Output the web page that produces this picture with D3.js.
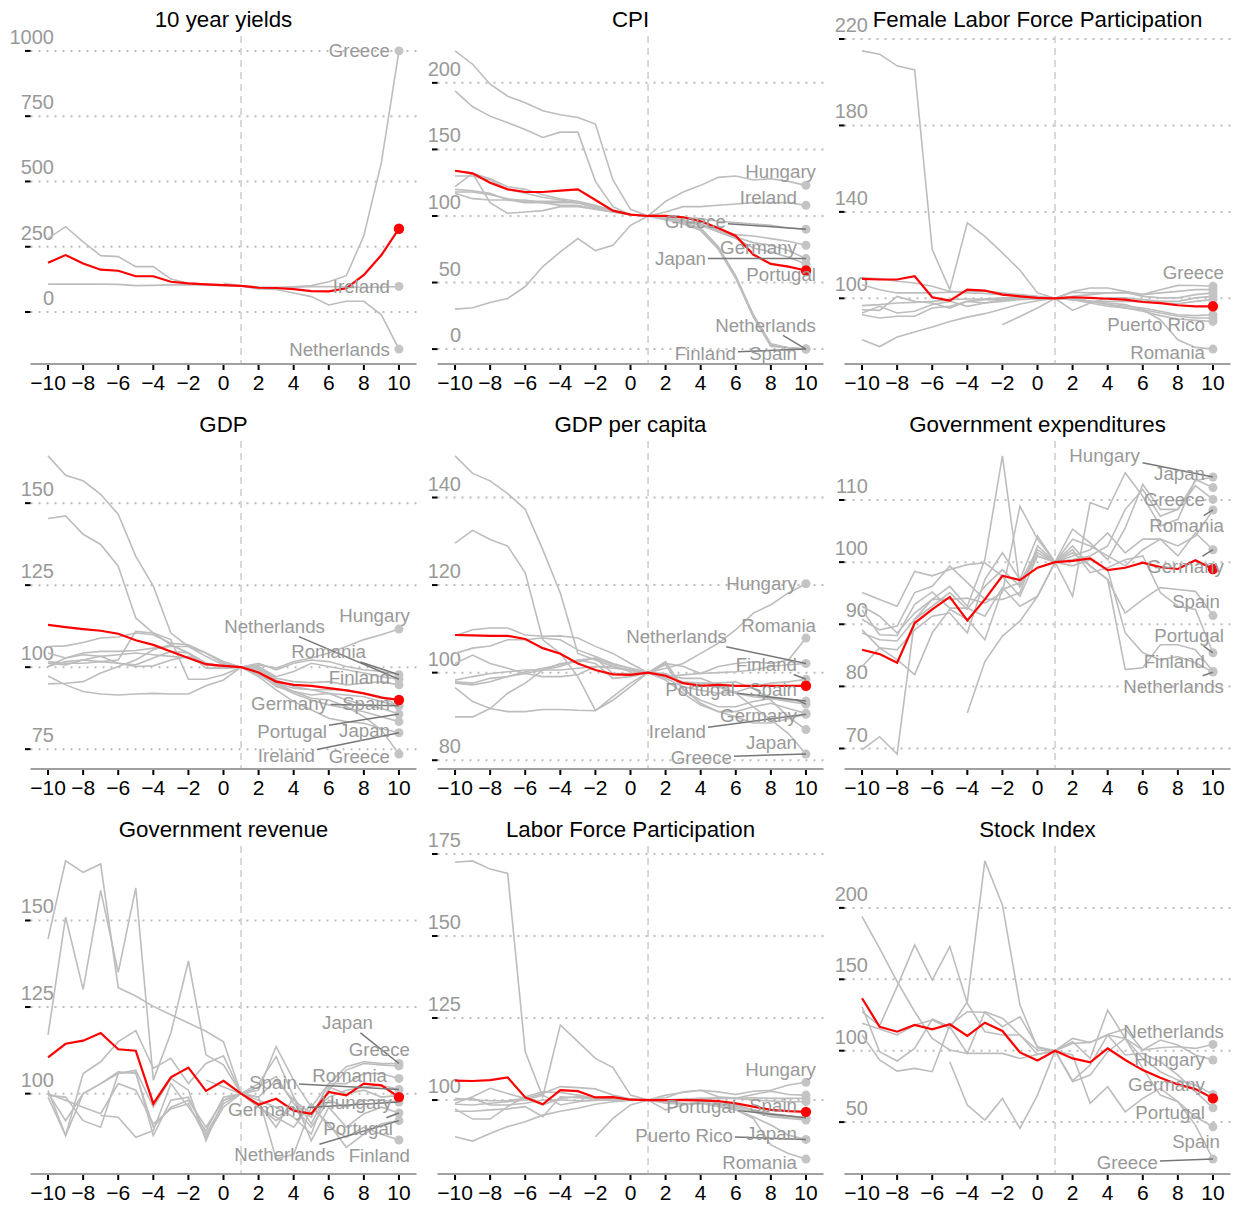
<!DOCTYPE html>
<html>
<head>
<meta charset="utf-8">
<script src="https://cdn.jsdelivr.net/npm/d3@7"></script>
<style>
  body { margin: 0; background: #fff; }
  text { font-family: "Liberation Sans", Arial, Helvetica, sans-serif; }
</style>
</head>
<body>
<svg id="chart" width="1241" height="1207"></svg>
<script>
// years relative to the event
const years = [-10, -9, -8, -7, -6, -5, -4, -3, -2, -1, 0, 1, 2, 3, 4, 5, 6, 7, 8, 9, 10];
const xTicks = [-10, -8, -6, -4, -2, 0, 2, 4, 6, 8, 10];
const _ = null;

// ---- 10 year yields
const yields = {
  Greece:      [282, 327, 269, 216, 212, 174, 174, 126, 110, 107, 103, 100, 95, 93, 97, 101, 116, 139, 292, 573, 1000],
  Ireland:     [107, 107, 107, 107, 106, 101, 102, 104, 105, 103, 101, 100, 96, 95, 95, 97, 98, 96, 95, 95, 98],
  Netherlands: [_, _, _, _, _, _, _, _, _, _, 110, 100, 88, 86, 73, 59, 27, 41, 41, -11, -142]
};
const yieldsMean = [189, 218, 186, 162, 158, 137, 137, 116, 110, 106, 103, 100, 93, 92, 88, 80, 79, 91, 142, 218, 319];
const yieldsTicks = [0, 250, 500, 750, 1000];
const yieldsLabels = [["Greece", -9, 0], ["Ireland", -9, 0], ["Netherlands", -9, 0]];

// ---- CPI
const cpi = {
  Greece:      [224, 214, 199, 190, 185, 179, 176, 174, 169, 127, 105, 100, 99, 99, 98, 96, 95, 94, 93, 91, 90],
  Portugal:    [194, 182, 175, 170, 165, 159, 163, 163, 126, 107, 101, 100, 99, 96, 93, 88, 83, 76, 73, 69, 64],
  Hungary:     [30, 31, 35, 38, 47, 62, 73, 83, 74, 78, 93, 100, 111, 118, 123, 129, 130, 127, 128, 126, 123],
  Netherlands: [134, 132, 128, 122, 120, 116, 113, 111, 108, 104, 101, 100, 98, 95, 90, 76, 54, 25, 3, 1, 0],
  Japan:       [122, 132, 110, 102, 103, 104, 107, 107, 105, 103, 101, 100, 98, 96, 93, 89, 84, 80, 78, 74, 68],
  Ireland:     [120, 119, 117, 112, 110, 110, 110, 110, 107, 104, 101, 100, 103, 107, 107, 108, 109, 110, 110, 110, 108],
  Germany:     [117, 113, 112, 112, 112, 110, 108, 108, 105, 103, 101, 100, 99, 97, 94, 90, 86, 85, 83, 81, 78],
  Finland:     [130, 130, 127, 120, 117, 114, 112, 110, 107, 104, 101, 100, 98, 94, 89, 75, 53, 24, 2, 1, 0],
  Spain:       [118, 118, 116, 113, 111, 111, 111, 110, 106, 103, 101, 100, 97, 95, 91, 77, 55, 26, 4, 1, 0]
};
const cpiMean = [134, 132, 125, 120, 118, 118, 119, 120, 112, 104, 101, 100, 100, 99, 96, 91, 85, 71, 64, 62, 59];
const cpiTicks = [0, 50, 100, 150, 200];
const cpiLabels = [["Hungary", 10, -14], ["Ireland", -9, -8], ["Greece", -80, -8], ["Germany", -9, 2],
  ["Japan", -100, 0], ["Portugal", 10, 11], ["Netherlands", 10, -24], ["Finland", -70, 4], ["Spain", -9, 4]];

// ---- Female Labor Force Participation
const femaleLfp = {
  Greece:        [106.3, 104, 102.5, 102.5, 102.5, 102.8, 103.2, 103.2, 102.5, 101.7, 100.9, 100, 102.8, 102.5, 102.5, 102.5, 101.7, 104, 106, 105.9, 105.6],
  Hungary:       [109.4, 109.1, 107.9, 107.1, 105.6, 103.2, 102.5, 102.2, 101.7, 101.2, 100.5, 100, 103.2, 104.8, 104.8, 103.2, 101.7, 102.5, 103.2, 104, 104],
  Ireland:       [214.5, 213, 207.6, 205.7, 122.6, 104, 134.9, 128.7, 121, 113, 102.5, 100, 100.9, 101.7, 102.5, 102.8, 100.9, 100.2, 100.2, 101.7, 102.5],
  Finland:       [96.6, 97.1, 97.8, 98.1, 98.6, 99.4, 99.7, 99.7, 100.2, 100.2, 100, 100, 94.4, 97.8, 100.2, 100.2, 99.4, 98.6, 98.6, 100.2, 100.9],
  Germany:       [94.7, 94.4, 100.9, 98.6, 97.8, 95.5, 98.6, 99.4, 99.4, 99.8, 99.8, 100, 99.4, 98.6, 98.6, 98.6, 98.6, 97.8, 97.5, 98.6, 99.4],
  Portugal:      [93.2, 96.3, 93.2, 94, 97.1, 98.6, 96.3, 97.8, 98.6, 99.4, 99.7, 100, 100.2, 98.6, 97.1, 96.3, 95.5, 94, 92.4, 92, 92.4],
  Spain:         [92.4, 90.9, 91.7, 91.7, 95.5, 96.3, 98.6, 97.8, 99.4, 99.7, 99.8, 100, 99.4, 97.8, 96.3, 95.5, 94.7, 93.2, 91.7, 90.9, 90.9],
  "Puerto Rico": [_, _, _, _, _, _, _, _, 87.8, 91.6, 95.5, 100, 100.2, 98.6, 97.1, 95.5, 94, 92, 90.4, 89.8, 89.3],
  Romania:       [80.8, 77.7, 82.1, 84.4, 86.7, 89.3, 91.3, 92.9, 95.1, 97.4, 98.9, 100, 99.4, 98.6, 97.8, 97.1, 94.7, 90.1, 80.8, 77.3, 76.5]
};
const femaleLfpMean = [109, 108.7, 108.7, 110.2, 100.5, 98.9, 104, 103.6, 101.7, 100.9, 100.2, 100, 100.5, 100.2, 99.8, 99.4, 98.3, 97.8, 96.8, 96.3, 96.3];
const femaleLfpTicks = [100, 140, 180, 220];
const femaleLfpLabels = [["Greece", 11, -14], ["Puerto Rico", -8, 3], ["Romania", -8, 3]];

// ---- GDP
const gdp = {
  Hungary:     [106.3, 106.5, 107.5, 108.9, 109.2, 110.4, 109.9, 107.3, 106.8, 104.3, 101.2, 100, 100.7, 99.7, 101.7, 102.8, 104.3, 106.3, 108.4, 109.9, 111.6],
  Netherlands: [104.3, 102.8, 104.3, 104.8, 104.8, 105.1, 105.8, 106.3, 106.3, 103.3, 100.7, 100, 100.2, 97.1, 98.7, 101.2, 100.2, 99.2, 98.2, 97.1, 96.3],
  Romania:     [164.4, 158.5, 156.8, 152.7, 146.6, 133.8, 124.7, 110.4, 106.3, 104.3, 101.7, 100, 101.2, 99.2, 101.2, 102.2, 101.7, 100.2, 99.2, 98.7, 97.7],
  Finland:     [101.7, 101.2, 101.2, 101.7, 101.2, 100.7, 102.8, 104.8, 104.3, 101.2, 99.7, 100, 99.7, 96.6, 95.6, 95.3, 95.6, 94.6, 95.1, 95.6, 94.6],
  Spain:       [94.9, 95.1, 95.6, 98.2, 100.2, 102.2, 105.3, 106.8, 104.3, 101.2, 100.2, 100, 99.2, 96.1, 94.1, 93.1, 92, 91.5, 91, 89.5, 88.2],
  Germany:     [100.2, 102.8, 103.8, 103.3, 101.2, 100.2, 100.4, 102.2, 103.3, 101.2, 100.2, 100, 98.7, 95.1, 93.6, 93.1, 93.1, 93.1, 92, 91, 88.2],
  Portugal:    [101.2, 100.7, 102.2, 103.3, 103.8, 104.3, 103.8, 103.3, 102.8, 100.7, 100.2, 100, 98.2, 94.1, 92.6, 91.5, 92, 90, 88.5, 87.5, 85.7],
  Japan:       [100.2, 101.7, 102.2, 101.7, 102.2, 110.9, 110.4, 106.8, 104.3, 99.7, 99.7, 100, 97.7, 94.6, 92, 90, 88.5, 87.5, 86.4, 84.9, 83.4],
  Ireland:     [145.3, 146.1, 140.5, 137.4, 130.8, 115, 110.4, 108.4, 96.3, 96.3, 97.7, 100, 97.1, 93.1, 89.5, 87, 84.4, 83.4, 82.9, 81.3, 80],
  Greece:      [97.3, 94.6, 92.6, 91.8, 91.5, 91.8, 92, 91.8, 91.8, 94.3, 96.1, 100, 98.2, 95.1, 92.6, 90.5, 90, 88, 84.9, 80.8, 73.5]
};
const gdpMean = [112.9, 112.2, 111.6, 111.1, 110.2, 108.2, 106.8, 104.8, 102.8, 100.9, 100.4, 100, 98.4, 95.6, 94.6, 94.3, 93.6, 92.9, 92, 90.7, 90];
const gdpTicks = [75, 100, 125, 150];
const gdpLabels = [["Hungary", 11, -14], ["Netherlands", -74, -53], ["Romania", -33, -23], ["Finland", -9, -7],
  ["Germany", -71, -2], ["Spain", -9, -2], ["Portugal", -72, 17], ["Japan", -9, 9], ["Ireland", -84, 23], ["Greece", -9, 2]];

// ---- GDP per capita
const gdpPc = {
  Hungary:     [89.9, 89.9, 91.8, 95.3, 97.6, 100.6, 102.1, 102.5, 103.3, 99.8, 99.8, 100, 101, 102.1, 104.4, 106.7, 109.8, 113.6, 115.5, 118.2, 120.3],
  Romania:     [96.6, 93.4, 91.8, 91.1, 91.1, 91.6, 91.6, 91.4, 91.3, 94.5, 97.6, 100, 102.1, 101.4, 99.8, 101.4, 102.1, 102.5, 102.1, 102.9, 107.9],
  Netherlands: [108.4, 109.8, 110.2, 110.2, 108.6, 108.3, 108.4, 107.9, 106, 104.4, 102.1, 100, 99.1, 99.5, 99.8, 100, 100.2, 100.6, 101.4, 101.8, 102.1],
  Finland:     [104.4, 105.6, 106.1, 107.5, 107.5, 107.9, 107.5, 105.2, 103.7, 102.1, 101, 100, 98.7, 96.8, 96, 95.3, 95.6, 96.8, 97.6, 97.9, 98.5],
  Portugal:    [102.1, 104, 102.1, 101, 99.8, 99.1, 99.1, 99.5, 101.4, 101.4, 100.6, 100, 99.8, 97.6, 97.2, 96.8, 95.3, 94.5, 94.1, 93.7, 93.5],
  Spain:       [97.9, 97.6, 98.7, 99.1, 99.8, 100.6, 101.4, 102.9, 103.3, 101.8, 101, 100, 101.8, 96, 93.7, 92.2, 92.2, 93.4, 94.1, 93.4, 92.8],
  Germany:     [98.3, 99.1, 99.8, 100.2, 100.6, 100.6, 100.6, 101, 101.4, 101, 100.6, 100, 98.3, 95.3, 92.6, 91.1, 91.1, 92.2, 93, 91.8, 90.7],
  Ireland:     [149.5, 145.5, 143.8, 140.9, 137.3, 128.1, 118.2, 104.4, 102.9, 101.4, 100.2, 100, 102.5, 96.4, 93, 91.1, 89.9, 88.5, 88.5, 89.5, 90.5],
  Japan:       [97.6, 97.2, 97.9, 99.1, 100.2, 101, 101.8, 102.9, 102.1, 98.7, 99.1, 100, 99.1, 97.9, 97.6, 97.6, 97.9, 96.4, 93.7, 89.9, 87],
  Greece:      [129.6, 132.5, 130.4, 128.9, 122.8, 107.5, 104.4, 99.1, 91.4, 93.7, 96.8, 100, 99.5, 98.7, 98.7, 97.2, 95.3, 92.2, 89.2, 86.1, 81.4]
};
const gdpPcMean = [108.6, 108.5, 108.4, 108.4, 107.7, 105.6, 104.3, 102.1, 100.6, 99.6, 99.5, 100, 99.3, 97.6, 97, 97.2, 97, 97, 97, 97, 97];
const gdpPcTicks = [80, 100, 120, 140];
const gdpPcLabels = [["Hungary", -9, 0], ["Romania", 10, -13], ["Netherlands", -79, -27], ["Finland", -9, -15],
  ["Portugal", -71, -12], ["Spain", -9, -15], ["Germany", -9, 2], ["Ireland", -100, 17], ["Japan", -9, 13], ["Greece", -74, 3]];

// ---- Government expenditures
const govExp = {
  Hungary:     [92.9, 91.3, 88.6, 91.8, 94, 94, 94.2, 93.4, 95.1, 109, 103.7, 100, 100.4, 101, 102.6, 108.5, 111.7, 107.4, 108.5, 113.1, 113.7],
  Japan:       [95.1, 94, 92.9, 98.5, 97.8, 98.8, 99.6, 99.9, 97.7, 94.5, 101, 100, 94.5, 109.6, 108.5, 114.4, 110.6, 105.8, 106.9, 113.3, 112],
  Greece:      [88.6, 87.5, 87.3, 90.8, 94, 96.1, 92.9, 100.4, 117.1, 96.1, 101.5, 100, 105.3, 103.1, 100.4, 105.5, 112.5, 108.5, 108.5, 112.3, 110.1],
  Romania:     [_, _, _, _, _, _, 75.7, 84, 88.1, 90.5, 94.5, 100, 101, 102, 104.7, 101.5, 103.7, 103.7, 102.6, 104.2, 108.4],
  Germany:     [90.8, 89.1, 89.7, 95.1, 96.1, 99.4, 96.7, 94, 94, 95.1, 102.6, 100, 103.7, 102.6, 101, 99.4, 102, 103.7, 101, 104.7, 102],
  Spain:       [83.2, 86.2, 85.9, 89.1, 91.3, 91.8, 88.6, 97.2, 101.5, 97.2, 104.2, 100, 102.6, 99.4, 97.2, 91.8, 94, 95.9, 95.6, 95.3, 91.4],
  Portugal:    [92.3, 88.3, 88.2, 93.2, 95.2, 92.6, 92.6, 91.3, 95.9, 92.9, 94.5, 100, 102, 98.3, 99.1, 100.4, 101, 95.1, 92.9, 92.4, 85.4],
  Finland:     [69.8, 71.9, 69.1, 90.8, 92.9, 95.1, 92.4, 96.1, 98.8, 96.1, 101, 100, 101.5, 99.4, 97.2, 82.7, 83, 86.7, 86.7, 85.9, 82.4],
  Netherlands: [89.1, 86.2, 84.3, 81.9, 88.6, 92.4, 90.8, 87.5, 95.6, 96.7, 102, 100, 99.4, 100.4, 98.8, 88.6, 85.4, 84.3, 84.8, 83.8, 82.3]
};
const govExpMean = [85.9, 85.2, 83.8, 90.2, 92.4, 94.4, 90.6, 94, 97.8, 97.1, 99.1, 100, 100.2, 100.6, 98.7, 99.1, 99.9, 99.2, 98.9, 100.3, 98.9];
const govExpTicks = [70, 80, 90, 100, 110];
const govExpLabels = [["Hungary", -73, -22], ["Japan", -8, -14], ["Greece", -8, 0], ["Romania", 11, 16],
  ["Germany", 11, 17], ["Spain", 7, -14], ["Portugal", 11, -17], ["Finland", -8, -10], ["Netherlands", 11, 14]];

// ---- Government revenue
const govRev = {
  Greece:      [144.7, 167.2, 163.9, 166.3, 130.6, 128.2, 125.2, 122.8, 120.4, 118, 115, 100, 102.9, 110.7, 99, 91.3, 101, 106.8, 108.7, 108.3, 108],
  Hungary:     [117, 151, 130.1, 158.7, 135, 159.4, 103.9, 117.5, 138.3, 111.2, 108.3, 100, 98.1, 96.1, 93.2, 88.3, 101.9, 100, 101, 99, 99.5],
  Romania:     [_, _, _, _, _, _, _, _, _, 103.9, 101.9, 100, 101.9, 104.9, 97.1, 93.2, 102.9, 102.9, 105.8, 105.8, 104.4],
  Japan:       [_, _, _, 93.7, 93.2, 87.4, 89.3, 102.9, 96.1, 89.3, 99, 100, 101, 113.6, 103.9, 96.1, 102.9, 107.8, 109.2, 108.7, 108.7],
  Spain:       [101, 87.9, 105.8, 109.2, 115, 118.2, 107.3, 110.2, 102.9, 108.7, 110.9, 100, 99, 103.9, 98.1, 94.2, 99, 101, 101.9, 102.4, 101.2],
  Germany:     [100.2, 92.2, 100, 102.9, 105.8, 106.8, 96.1, 104.4, 101, 86.4, 98.1, 100, 96.1, 92.2, 96.1, 90.3, 98.1, 96.1, 98.1, 98.1, 97.6],
  Portugal:    [99.5, 99, 92.2, 90.3, 105.8, 106.3, 87.9, 98.1, 99, 88.3, 97.1, 100, 97.1, 90.3, 99, 86.4, 96.1, 90.3, 94.2, 96.1, 94.4],
  Netherlands: [99, 87.9, 100, 102.9, 106.3, 105.8, 90.3, 96.1, 98.1, 90.3, 98.1, 100, 99, 81.1, 82.5, 96.1, 91.3, 84.5, 88.3, 91.3, 92.2],
  Finland:     [100, 98.1, 96.1, 94.2, 102.9, 101, 91.3, 95.6, 97.1, 87.4, 96.1, 100, 96.1, 93.2, 90.3, 97.1, 90.3, 87.4, 90.3, 88.3, 86.6]
};
const govRevMean = [110.5, 114.4, 115.3, 117.5, 112.8, 112.4, 97.1, 104.7, 107.5, 100.8, 103.7, 100, 96.8, 98.5, 95.1, 94.2, 100.5, 99.5, 102.9, 102.4, 99];
const govRevTicks = [100, 125, 150];
const govRevLabels = [["Japan", -26, -41], ["Greece", 11, -16], ["Romania", -12, -3], ["Spain", -102, -7],
  ["Hungary", -7, 7], ["Germany", -94, 8], ["Portugal", -6, 15], ["Netherlands", -64, 34], ["Finland", 11, 15]];

// ---- Labor Force Participation
const lfp = {
  Hungary:       [_, _, _, _, _, _, _, _, 88.8, 94.4, 98.5, 100, 101.5, 102.3, 103, 102.5, 101.7, 102.7, 103, 104.6, 105.4],
  Greece:        [100.5, 100, 99.8, 99.8, 100.5, 102, 104.1, 103.8, 103.4, 101.5, 100.3, 100, 100.7, 102.5, 103, 101, 100.5, 101.7, 102.7, 101.7, 101.5],
  Finland:       [99, 101, 103.6, 102, 100.5, 98.5, 100.5, 101, 100.7, 100.5, 100.2, 100, 100, 100.3, 100.5, 100.7, 100.5, 100.7, 100.5, 100.5, 100.5],
  Ireland:       [96.6, 96.6, 97, 97.3, 98, 94.9, 101, 100.7, 100.3, 100.3, 100, 100, 99.7, 100, 100.3, 100.5, 100.5, 100, 99.7, 99.5, 99.5],
  Portugal:      [97.3, 94.2, 94.2, 98, 101, 102.5, 102.3, 101.5, 100.5, 100.3, 100, 100, 99, 98.7, 99, 99, 98, 97, 95.9, 95.2, 94.6],
  Spain:         [98.7, 98.5, 99, 99.5, 100, 101.5, 98.5, 99.5, 100, 100, 100, 100, 100, 100, 99.7, 99.5, 98.5, 97, 95.4, 94.6, 94.2],
  Japan:         [100, 100.5, 98.5, 98.5, 99, 100, 100, 99.8, 99.9, 100, 100, 100, 97, 98.5, 99.5, 98.5, 97.5, 96.4, 94.9, 94.4, 93.9],
  "Puerto Rico": [172.5, 172.9, 170.4, 169.1, 114.7, 101, 122.9, 117.8, 112.7, 109.9, 101.5, 100, 99.5, 99, 99, 98, 97, 94.9, 92.4, 89.3, 88],
  Romania:       [88.8, 87.5, 89.8, 91.9, 93.4, 95.4, 96.6, 97.5, 98.7, 99.5, 99.9, 100, 99.5, 100, 100.5, 99, 97, 94.4, 86.3, 83.7, 82]
};
const lfpMean = [105.9, 105.8, 106.1, 106.9, 100.8, 98.7, 103, 102.7, 100.8, 100.9, 100.1, 100, 100, 100, 99.9, 99.7, 99, 98, 97, 96.6, 96.4];
const lfpTicks = [100, 125, 150, 175];
const lfpLabels = [["Hungary", 10, -13], ["Portugal", -70, -11], ["Spain", -9, -14], ["Puerto Rico", -73, -4],
  ["Japan", -9, 13], ["Romania", -9, 3]];

// ---- Stock Index
const stock = {
  Netherlands: [193.9, 171.7, 148.4, 127.3, 108.6, 100.5, 98.1, 98.1, 98.1, 94.6, 97.4, 100, 108.6, 105.8, 111.4, 115.2, 100.5, 102.1, 102.8, 101.6, 104.4],
  Hungary:     [111, 93.5, 85.7, 87.6, 85.3, 118, 127.3, 126.9, 116.8, 123.8, 102.8, 100, 78.3, 82.9, 99.3, 108.6, 100.5, 107.5, 104, 97, 93.5],
  Germany:     [130.8, 99.3, 92.8, 101.6, 122.2, 116.8, 98.1, 127.3, 122.7, 111, 100.5, 100, 105.1, 105.8, 111, 108.6, 94.6, 85.3, 79.4, 75.9, 69.4],
  Portugal:    [127.3, 117.5, 144.9, 174.1, 149.5, 172.9, 133.2, 113.3, 111, 111, 97.4, 100, 79, 90, 111, 97, 98.1, 92.3, 82.9, 71.3, 60],
  Spain:       [119.2, 115.2, 111, 118, 121.5, 115.7, 134.3, 232.9, 202.1, 132, 102.1, 100, 106.3, 94.6, 128.5, 108.6, 87.6, 68.9, 64.3, 53.7, 46.7],
  Greece:      [_, _, _, _, _, 92.3, 61.9, 51.4, 66.6, 45.6, 68.9, 100, 97, 63.1, 74.8, 57.2, 66.6, 73.6, 64.3, 47.9, 24.1]
};
const stockMean = [136.7, 116.8, 113.3, 118, 115, 118.5, 110.3, 119.6, 113.8, 98.8, 93.2, 100, 94.6, 91.8, 101.6, 93.5, 86.4, 81.1, 76.4, 73.1, 66.6];
const stockTicks = [50, 100, 150, 200];
const stockLabels = [["Netherlands", 11, -13], ["Hungary", -8, -1], ["Germany", -8, -10], ["Portugal", -8, 5],
  ["Spain", 7, 15], ["Greece", -55, 3]];

const panels = [
  { title: "10 year yields", series: yields, mean: yieldsMean, ticks: yieldsTicks, labels: yieldsLabels },
  { title: "CPI", series: cpi, mean: cpiMean, ticks: cpiTicks, labels: cpiLabels },
  { title: "Female Labor Force Participation", series: femaleLfp, mean: femaleLfpMean, ticks: femaleLfpTicks, labels: femaleLfpLabels },
  { title: "GDP", series: gdp, mean: gdpMean, ticks: gdpTicks, labels: gdpLabels },
  { title: "GDP per capita", series: gdpPc, mean: gdpPcMean, ticks: gdpPcTicks, labels: gdpPcLabels },
  { title: "Government expenditures", series: govExp, mean: govExpMean, ticks: govExpTicks, labels: govExpLabels },
  { title: "Government revenue", series: govRev, mean: govRevMean, ticks: govRevTicks, labels: govRevLabels },
  { title: "Labor Force Participation", series: lfp, mean: lfpMean, ticks: lfpTicks, labels: lfpLabels },
  { title: "Stock Index", series: stock, mean: stockMean, ticks: stockTicks, labels: stockLabels }
];

// layout
const colLeft = [30.5, 437.5, 844.5];
const rowTop = [36, 441, 846];
const pw = 386, ph = 328;
const grey = "#bdbdbd", labelGrey = "#999999";

const svg = d3.select("#chart");

panels.forEach((p, k) => {
  const g = svg.append("g")
    .attr("transform", "translate(" + colLeft[k % 3] + "," + rowTop[Math.floor(k / 3)] + ")");

  const x = d3.scaleLinear().domain([-11, 11]).range([0, pw]);

  // y domain = data range padded by 5% each side
  const all = Object.values(p.series).flat().concat(p.mean).filter(v => v != null);
  const [lo, hi] = d3.extent(all);
  const pad = (hi - lo) * 0.05;
  const y = d3.scaleLinear().domain([lo - pad, hi + pad]).range([ph, 0]);

  // title
  g.append("text")
    .attr("x", pw / 2).attr("y", -9)
    .attr("text-anchor", "middle")
    .style("font-size", "22.3px").style("fill", "#000")
    .text(p.title);

  // y grid + ticks + labels
  p.ticks.forEach(t => {
    g.append("line")
      .attr("x1", 0).attr("x2", pw).attr("y1", y(t)).attr("y2", y(t))
      .attr("stroke", "#bdbdbd").attr("stroke-width", 2).attr("stroke-dasharray", "2,6");
    g.append("line")
      .attr("x1", -5.5).attr("x2", 0).attr("y1", y(t)).attr("y2", y(t))
      .attr("stroke", "#000").attr("stroke-width", 2);
    g.append("text")
      .attr("x", 23.5).attr("y", y(t) - 7)
      .attr("text-anchor", "end")
      .style("font-size", "20px").style("fill", labelGrey)
      .text(t);
  });

  // event marker
  g.append("line")
    .attr("x1", x(1)).attr("x2", x(1)).attr("y1", 0).attr("y2", ph)
    .attr("stroke", "#cccccc").attr("stroke-width", 1.5).attr("stroke-dasharray", "7,5");

  // x axis
  g.append("line")
    .attr("x1", 0).attr("x2", pw).attr("y1", ph).attr("y2", ph)
    .attr("stroke", "#a0a0a0").attr("stroke-width", 2);
  const fmt = d3.format("d");
  xTicks.forEach(t => {
    g.append("line")
      .attr("x1", x(t)).attr("x2", x(t)).attr("y1", ph + 1).attr("y2", ph + 6)
      .attr("stroke", "#000").attr("stroke-width", 2);
    g.append("text")
      .attr("x", x(t)).attr("y", ph + 26)
      .attr("text-anchor", "middle")
      .style("font-size", "21px").style("fill", "#000")
      .text(fmt(t));
  });

  const line = d3.line()
    .defined(d => d != null)
    .x((d, i) => x(years[i]))
    .y(d => y(d));

  const names = Object.keys(p.series);

  g.selectAll("path.country")
    .data(names)
    .enter().append("path")
    .attr("class", "country")
    .attr("d", n => line(p.series[n]))
    .attr("fill", "none")
    .attr("stroke", grey)
    .attr("stroke-width", 1.6);

  g.append("path")
    .attr("d", line(p.mean))
    .attr("fill", "none")
    .attr("stroke", "#ff0000")
    .attr("stroke-width", 2.2);

  const last = years.length - 1;
  g.selectAll("circle.end")
    .data(names)
    .enter().append("circle")
    .attr("class", "end")
    .attr("cx", x(years[last]))
    .attr("cy", n => y(p.series[n][last]))
    .attr("r", 4.5)
    .attr("fill", "#c4c4c4");

  g.append("circle")
    .attr("cx", x(years[last]))
    .attr("cy", y(p.mean[last]))
    .attr("r", 5.2)
    .attr("fill", "#ff0000");

  // country labels with leader lines
  const fs = 18.7;
  const leaderG = g.append("g");
  p.labels.forEach(([name, dx, dy]) => {
    const px = x(years[last]), py = y(p.series[name][last]);
    const t = g.append("text")
      .attr("x", px + dx).attr("y", py + dy + fs * 0.35)
      .attr("text-anchor", "end")
      .style("font-size", fs + "px").style("fill", labelGrey)
      .text(name);
    const b = t.node().getBBox();
    const cx = b.x + b.width / 2, cy = py + dy;
    const hw = b.width / 2 + 2, hh = fs / 2 + 1;
    const vx = px - cx, vy = py - cy;
    let s = Math.min(vx !== 0 ? hw / Math.abs(vx) : Infinity, vy !== 0 ? hh / Math.abs(vy) : Infinity);
    if (s < 1) {
      const sx = cx + vx * s, sy = cy + vy * s;
      const len = Math.hypot(px - sx, py - sy);
      if (len > 10) {
        leaderG.append("line")
          .attr("x1", sx).attr("y1", sy).attr("x2", px).attr("y2", py)
          .attr("stroke", "#777").attr("stroke-width", 1.5);
      }
    }
  });
});
</script>
</body>
</html>
